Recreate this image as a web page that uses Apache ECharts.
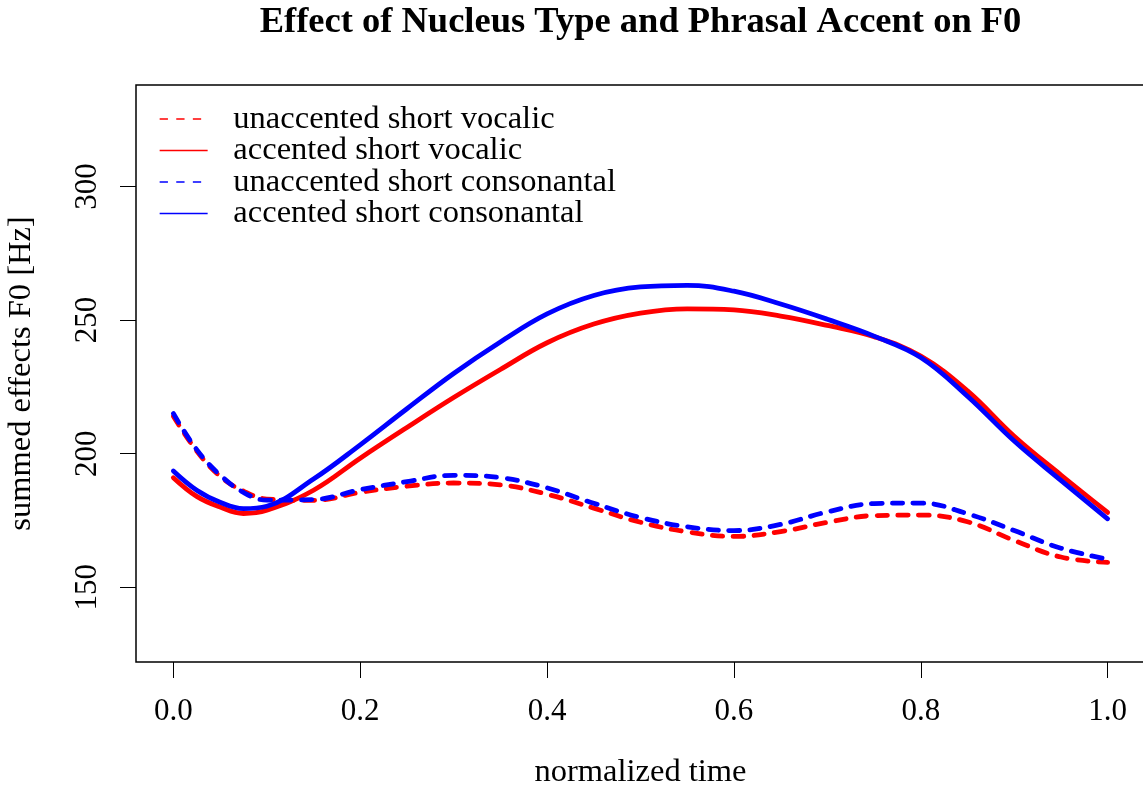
<!DOCTYPE html>
<html>
<head>
<meta charset="utf-8">
<script src="https://cdn.jsdelivr.net/npm/echarts@6/dist/echarts.min.js"></script>
<style>
  html, body { margin: 0; padding: 0; background: #fff; }
  #chart { width: 1143px; height: 790px; }
</style>
</head>
<body>
<div id="chart"></div>
<script>
// Normalized time sample points
const timePoints = [0, 0.025, 0.05, 0.075, 0.1, 0.15, 0.2, 0.25, 0.3, 0.35, 0.4, 0.45,
                    0.5, 0.55, 0.6, 0.65, 0.7, 0.75, 0.8, 0.85, 0.9, 0.95, 1.0];

// Summed F0 effects (Hz) per condition
const unaccentedVocalic = [214, 201, 191.5, 186, 183, 182.5, 185.5, 187.8, 189, 188.3, 184.8, 179.6,
                           174.3, 170.7, 169, 170.8, 174.3, 176.8, 177, 174.5, 167.5, 161.3, 159.3];
const accentedVocalic = [191, 184, 180, 177.6, 178.8, 186.3, 198.3, 209.8, 221, 231.5, 241.5, 248.5,
                         252.6, 254.2, 253.8, 251.5, 248, 243.8, 236.5, 223.5, 206.5, 192, 178];
const unaccentedConsonantal = [215, 201.5, 192, 185.5, 182.6, 182.8, 186.5, 189.5, 191.9, 191, 187.2, 181.4,
                               176.1, 172.6, 171.2, 173.5, 178.2, 181.3, 181.5, 177.5, 171.2, 164.6, 160.5];
const accentedConsonantal = [193.5, 186.3, 181.8, 179.4, 180.3, 190.5, 203.3, 216.8, 230, 241.8, 252.3, 259.2,
                             262.4, 263, 260.8, 256, 250.3, 244, 236, 221.5, 204.7, 190, 175.6];

const xTicks = [0, 0.2, 0.4, 0.6, 0.8, 1.0];
const yTicks = [150, 200, 250, 300];

const seriesNames = ['unaccented short vocalic', 'accented short vocalic',
                     'unaccented short consonantal', 'accented short consonantal'];

const FONT = 'Liberation Serif';
const RED = '#ff0000';
const BLUE = '#0000ff';
const DASH = [10.4, 10.4];

function pairs(values) {
  return timePoints.map((t, i) => [t, values[i]]);
}

function curve(name, values, color, dashed) {
  return {
    name: name,
    type: 'line',
    data: pairs(values),
    smooth: 0.4,
    symbol: 'none',
    color: color,
    lineStyle: { color: color, width: 4.8, type: dashed ? DASH : 'solid', cap: 'round', join: 'round' },
    emphasis: { disabled: true },
    animation: false
  };
}

// Thin legend keys without a symbol marker
function legendItem(name, dashed) {
  return {
    name: name,
    itemStyle: { color: 'transparent', borderWidth: 0, opacity: 0 },
    lineStyle: { width: 1.3, type: dashed ? [8.3, 8.3] : 'solid', cap: 'butt' }
  };
}

const chart = echarts.init(document.getElementById('chart'), null, { renderer: 'canvas' });

chart.setOption({
  backgroundColor: '#ffffff',
  animation: false,
  title: {
    text: 'Effect of Nucleus Type and Phrasal Accent on F0',
    left: 640.5,
    top: 4,
    padding: 0,
    textAlign: 'center',
    textStyle: { fontFamily: FONT, fontWeight: 'bold', fontSize: 36.5, color: '#000' }
  },
  legend: {
    orient: 'vertical',
    left: 159,
    top: 102.5,
    padding: 0,
    itemWidth: 48,
    itemHeight: 14,
    itemGap: -1.5,
    selectedMode: false,
    textStyle: { fontFamily: FONT, fontSize: 32.5, lineHeight: 31, color: '#000', padding: [0, 0, 0, 20.7] },
    data: [
      legendItem(seriesNames[0], true),
      legendItem(seriesNames[1], false),
      legendItem(seriesNames[2], true),
      legendItem(seriesNames[3], false)
    ]
  },
  grid: {
    left: 136,
    top: 85,
    right: -2,
    bottom: 128,
    outerBoundsMode: 'none',
    show: true,
    borderColor: '#000',
    borderWidth: 1.5,
    backgroundColor: 'transparent',
    containLabel: false
  },
  xAxis: {
    type: 'value',
    min: -0.04,
    max: 1.04,
    axisLine: { show: false, onZero: false },
    splitLine: { show: false },
    axisTick: { show: true, customValues: xTicks, length: 16, lineStyle: { color: '#000', width: 1 } },
    axisLabel: {
      customValues: xTicks,
      margin: 34,
      formatter: v => v.toFixed(1),
      fontFamily: FONT, fontSize: 31, color: '#000'
    },
    name: 'normalized time',
    nameLocation: 'middle',
    nameGap: 94,
    nameTextStyle: { fontFamily: FONT, fontSize: 32.5, color: '#000' }
  },
  yAxis: {
    type: 'value',
    min: 122,
    max: 338,
    axisLine: { show: false, onZero: false },
    splitLine: { show: false },
    axisTick: { show: true, customValues: yTicks, length: 16, lineStyle: { color: '#000', width: 1 } },
    axisLabel: {
      customValues: yTicks,
      rotate: 90,
      margin: 33,
      fontFamily: FONT, fontSize: 31, color: '#000'
    },
    name: 'summed effects F0 [Hz]',
    nameLocation: 'middle',
    nameRotate: 90,
    nameGap: 98,
    nameTextStyle: { fontFamily: FONT, fontSize: 32.5, color: '#000' }
  },
  series: [
    curve(seriesNames[0], unaccentedVocalic, RED, true),
    curve(seriesNames[1], accentedVocalic, RED, false),
    curve(seriesNames[2], unaccentedConsonantal, BLUE, true),
    curve(seriesNames[3], accentedConsonantal, BLUE, false)
  ]
});
</script>
</body>
</html>
